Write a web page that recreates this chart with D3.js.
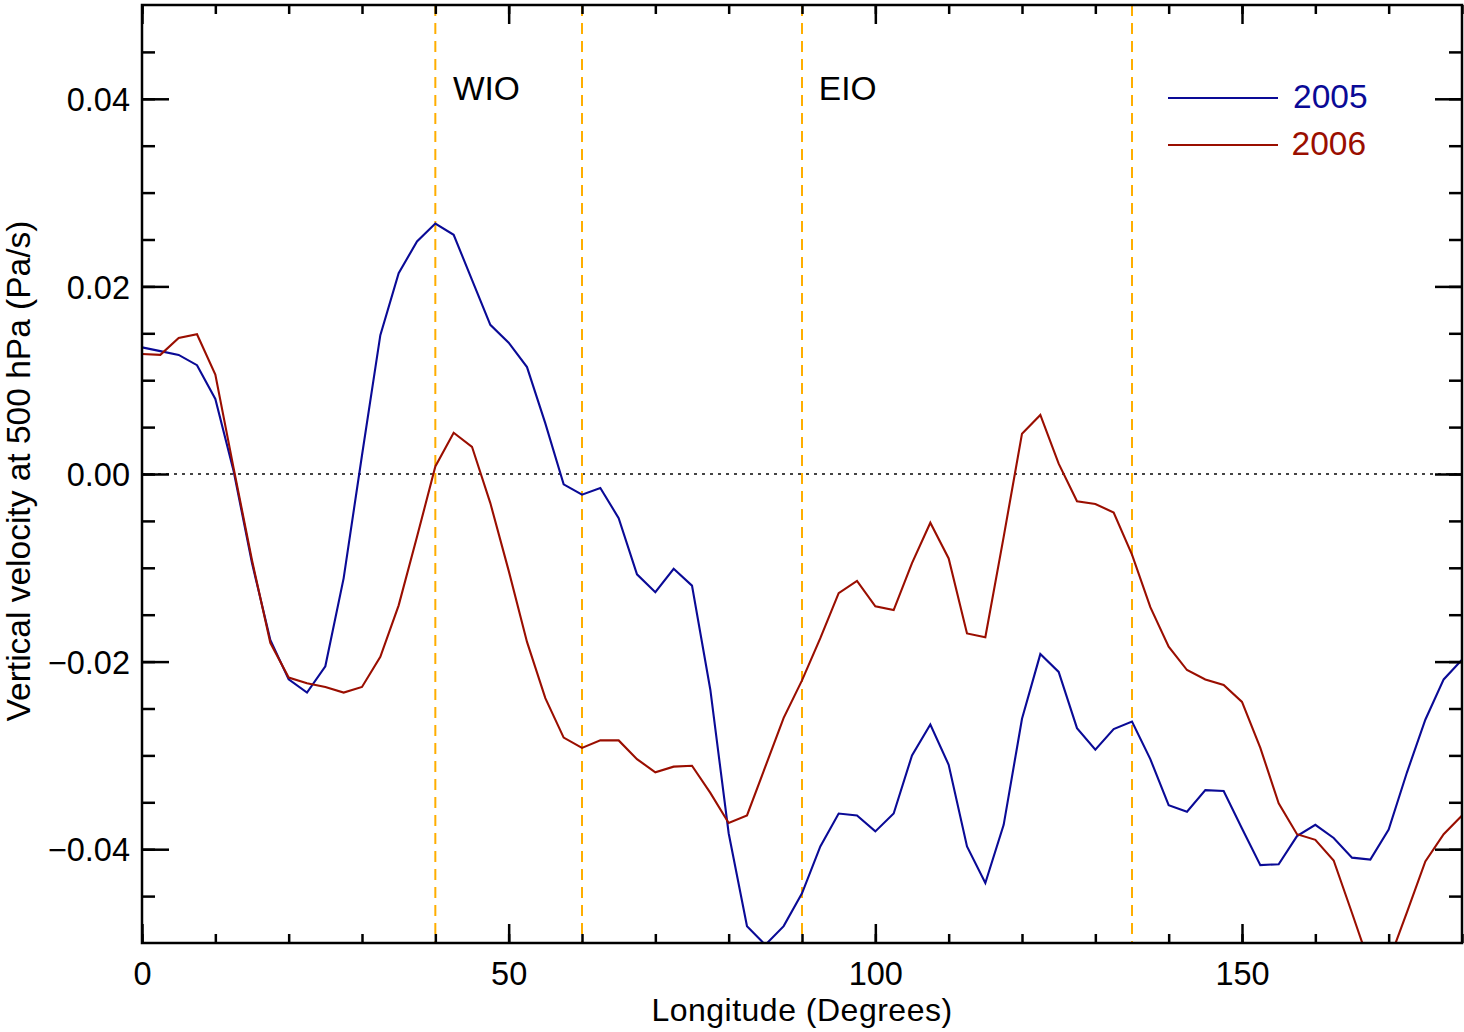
<!DOCTYPE html>
<html>
<head>
<meta charset="utf-8">
<script src="https://cdn.jsdelivr.net/npm/d3@7"></script>
<style>
  html, body { margin: 0; padding: 0; background: #fff; }
  svg { display: block; }
  text { font-family: "Liberation Sans", Arial, Helvetica, sans-serif; }
</style>
</head>
<body>
<svg id="chart" width="1464" height="1032"></svg>
<script>
// ---- data ----
const longitude = [0,2.5,5,7.5,10,12.5,15,17.5,20,22.5,25,27.5,30,32.5,35,37.5,40,42.5,45,47.5,
  50,52.5,55,57.5,60,62.5,65,67.5,70,72.5,75,77.5,80,82.5,85,87.5,90,92.5,95,97.5,
  100,102.5,105,107.5,110,112.5,115,117.5,120,122.5,125,127.5,130,132.5,135,137.5,
  140,142.5,145,147.5,150,152.5,155,157.5,160,162.5,165,167.5,170,172.5,175,177.5,180];

const w2005 = [0.0135,0.0131,0.0127,0.0116,0.0080,0.0003,-0.0095,-0.0177,-0.0219,-0.0233,
  -0.0205,-0.0111,0.0020,0.0148,0.0214,0.0248,0.0267,0.0255,0.0207,0.0159,
  0.0140,0.0114,0.0054,-0.0011,-0.0022,-0.0015,-0.0047,-0.0107,-0.0126,-0.0101,
  -0.0119,-0.0230,-0.0383,-0.0482,-0.0502,-0.0482,-0.0447,-0.0397,-0.0362,-0.0364,
  -0.0381,-0.0362,-0.0300,-0.0267,-0.0310,-0.0397,-0.0436,-0.0374,-0.0261,-0.0192,
  -0.0211,-0.0271,-0.0294,-0.0272,-0.0264,-0.0304,-0.0353,-0.0360,-0.0337,-0.0338,
  -0.0378,-0.0417,-0.0416,-0.0386,-0.0374,-0.0388,-0.0409,-0.0411,-0.0379,-0.0318,
  -0.0262,-0.0219,-0.0198];

const w2006 = [0.0128,0.0127,0.0145,0.0149,0.0106,0.0006,-0.0092,-0.0180,-0.0217,-0.0223,
  -0.0227,-0.0233,-0.0227,-0.0195,-0.0140,-0.0067,0.0008,0.0044,0.0029,-0.0031,
  -0.0103,-0.0179,-0.0239,-0.0281,-0.0292,-0.0284,-0.0284,-0.0304,-0.0318,-0.0312,
  -0.0311,-0.0340,-0.0372,-0.0364,-0.0312,-0.0260,-0.0220,-0.0175,-0.0127,-0.0114,
  -0.0141,-0.0145,-0.0095,-0.0052,-0.0090,-0.0170,-0.0174,-0.0067,0.0043,0.0063,
  0.0011,-0.0029,-0.0032,-0.0041,-0.0086,-0.0142,-0.0184,-0.0209,-0.0219,-0.0225,
  -0.0243,-0.0292,-0.0351,-0.0384,-0.0390,-0.0412,-0.0468,-0.0525,-0.0520,-0.0467,
  -0.0413,-0.0384,-0.0364];

const seriesNames = ["2005", "2006"];
const regionBounds = [40, 60, 90, 135];
const regionLabels = ["WIO", "EIO"];
const regionLabelAt = [42.4, 92.3];
const xTicks = [0, 50, 100, 150];
const xMinorTicks = [0,10,20,30,40,50,60,70,80,90,100,110,120,130,140,150,160,170,180];
const yTicks = [-0.04, -0.02, 0.00, 0.02, 0.04];
const yMinorTicks = [-0.045,-0.04,-0.035,-0.03,-0.025,-0.02,-0.015,-0.01,-0.005,0,
  0.005,0.01,0.015,0.02,0.025,0.03,0.035,0.04,0.045];
const xTitle = "Longitude (Degrees)";
const yTitle = "Vertical velocity at 500 hPa (Pa/s)";

// ---- layout ----
const L = 142, R = 1462, T = 5, B = 943;
const colors = ["#0a0a96", "#9a0e00"];
const orange = "#FFAE00";
const FS_TICK = 32.5;
const FS = 33.5;

const svg = d3.select("#chart");
const x = d3.scaleLinear().domain([0, 180]).range([L, R]);
const y = d3.scaleLinear().domain([-0.05, 0.05]).range([B, T]);

svg.append("defs").append("clipPath").attr("id", "clip")
  .append("rect").attr("x", L).attr("y", T).attr("width", R - L).attr("height", B - T);

// zero line
svg.append("line")
  .attr("x1", x(0)).attr("x2", x(180)).attr("y1", y(0)).attr("y2", y(0))
  .attr("stroke", "#444").attr("stroke-width", 2).attr("stroke-dasharray", "3,5");

// region boundaries
svg.selectAll("line.region").data(regionBounds).enter().append("line")
  .attr("class", "region")
  .attr("x1", d => x(d)).attr("x2", d => x(d))
  .attr("y1", y(0.05)).attr("y2", y(-0.05))
  .attr("stroke", orange).attr("stroke-width", 2).attr("stroke-dasharray", "11,7");

// data lines
const series = [w2005, w2006];
const line = d3.line().x((d, i) => x(longitude[i])).y(d => y(d));
const g = svg.append("g").attr("clip-path", "url(#clip)");
series.forEach((s, k) => {
  g.append("path").datum(s).attr("d", line)
    .attr("fill", "none").attr("stroke", colors[k]).attr("stroke-width", 2.1)
    .attr("stroke-linejoin", "miter");
});

// axes
function styleAxis(sel) {
  sel.select(".domain").remove();
  sel.selectAll(".tick line").attr("stroke", "#000").attr("stroke-width", 2.5);
  sel.selectAll("text").attr("font-size", FS_TICK).attr("fill", "#000")
     .attr("font-family", '"Liberation Sans", Arial, Helvetica, sans-serif');
}
const fmtY = d3.format(".2f");

svg.append("g").attr("transform", `translate(0,${B})`)
  .call(d3.axisBottom(x).tickValues(xMinorTicks).tickSize(-9).tickFormat(""))
  .call(styleAxis);
svg.append("g").attr("transform", `translate(0,${B})`)
  .call(d3.axisBottom(x).tickValues(xTicks).tickSize(-19).tickPadding(19).tickFormat(d3.format("d")))
  .call(styleAxis);
svg.append("g").attr("transform", `translate(0,${T})`)
  .call(d3.axisTop(x).tickValues(xMinorTicks).tickSize(-9).tickFormat(""))
  .call(styleAxis);
svg.append("g").attr("transform", `translate(0,${T})`)
  .call(d3.axisTop(x).tickValues(xTicks).tickSize(-19).tickFormat(""))
  .call(styleAxis);

svg.append("g").attr("transform", `translate(${L},0)`)
  .call(d3.axisLeft(y).tickValues(yMinorTicks).tickSize(-13).tickFormat(""))
  .call(styleAxis);
svg.append("g").attr("transform", `translate(${L},0)`)
  .call(d3.axisLeft(y).tickValues(yTicks).tickSize(-27).tickPadding(12).tickFormat(fmtY))
  .call(styleAxis)
  .selectAll("text").attr("dy", "0.36em");
svg.append("g").attr("transform", `translate(${R},0)`)
  .call(d3.axisRight(y).tickValues(yMinorTicks).tickSize(-13).tickFormat(""))
  .call(styleAxis);
svg.append("g").attr("transform", `translate(${R},0)`)
  .call(d3.axisRight(y).tickValues(yTicks).tickSize(-27).tickFormat(""))
  .call(styleAxis);

// frame
svg.append("rect").attr("x", L).attr("y", T).attr("width", R - L).attr("height", B - T)
  .attr("fill", "none").attr("stroke", "#000").attr("stroke-width", 2.5);

// region labels
svg.selectAll("text.region").data(regionLabels).enter().append("text")
  .attr("class", "region")
  .attr("x", (d, i) => x(regionLabelAt[i])).attr("y", 100)
  .attr("font-size", FS).attr("fill", "#000").text(d => d);

// legend
const legLineY = [98, 145];
const legTextX = [1293, 1291.5];
seriesNames.forEach((nm, k) => {
  const yy = legLineY[k];
  svg.append("line").attr("x1", 1168).attr("x2", 1278)
    .attr("y1", yy).attr("y2", yy).attr("stroke", colors[k]).attr("stroke-width", 2);
  svg.append("text").attr("x", legTextX[k]).attr("y", yy + 10)
    .attr("font-size", FS).attr("fill", colors[k]).text(nm);
});

// axis titles
svg.append("text").attr("x", (L + R) / 2).attr("y", 1021)
  .attr("text-anchor", "middle").attr("font-size", 32).attr("letter-spacing", 0.5)
  .attr("fill", "#000").text(xTitle);
svg.append("text").attr("transform", `translate(29.5,471) rotate(-90)`)
  .attr("text-anchor", "middle").attr("font-size", FS).attr("fill", "#000").text(yTitle);
</script>
</body>
</html>
